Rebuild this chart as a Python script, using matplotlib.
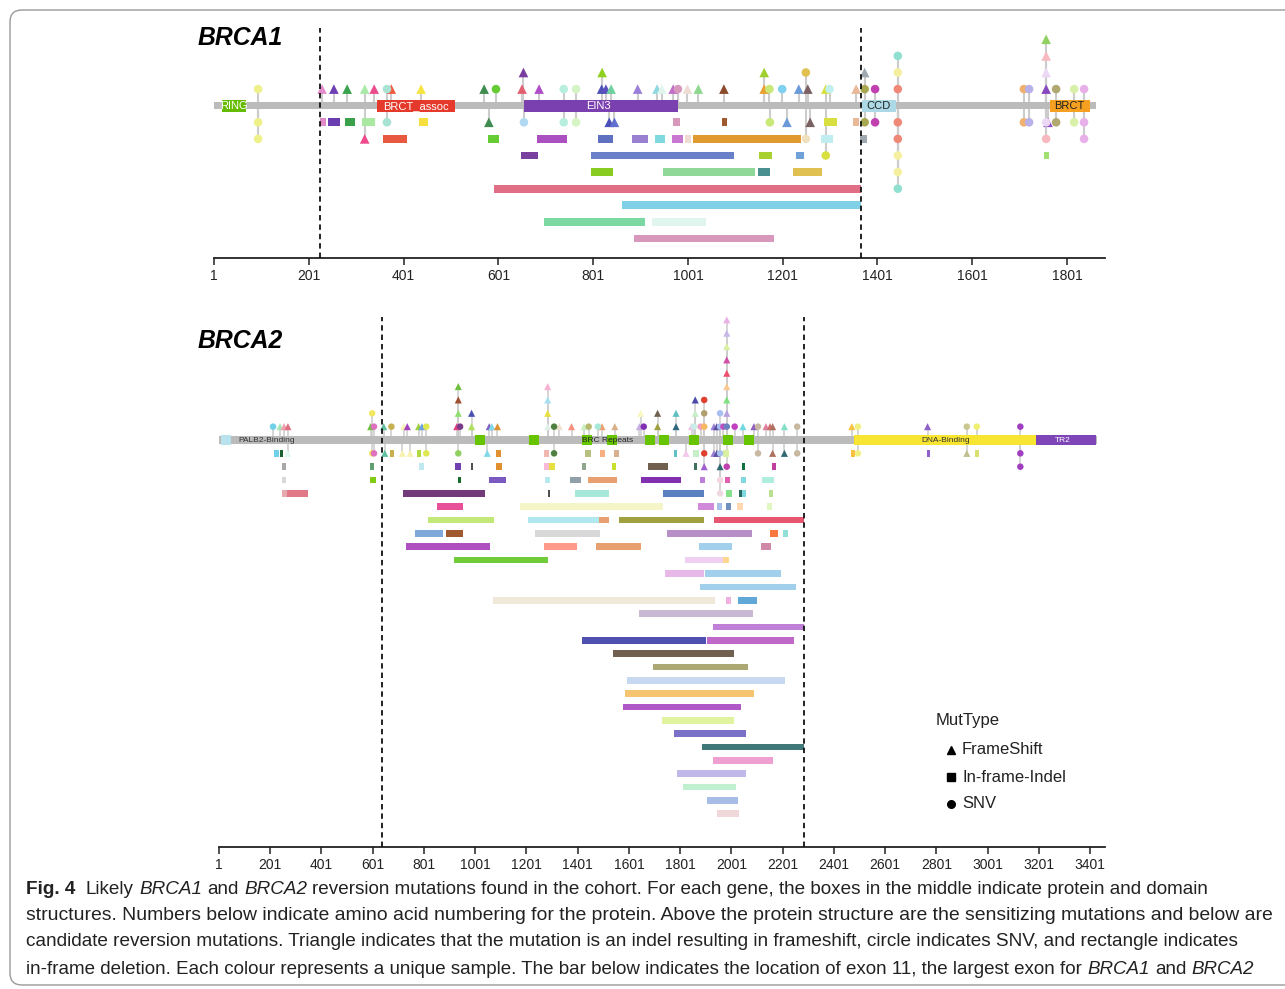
import matplotlib.pyplot as plt
from matplotlib.lines import Line2D
from matplotlib.patches import FancyBboxPatch

plt.rcParams['font.family'] = ['Liberation Sans', 'DejaVu Sans']

W, H = 1285, 989

# ---------------- BRCA1 ----------------
b1_len = 1863
b1_exon11 = [225, 1366]
b1_ticks = [1, 201, 401, 601, 801, 1001, 1201, 1401, 1601, 1801]

b1_dom_start = [18, 345, 655, 1368, 1765]
b1_dom_end = [68, 510, 980, 1440, 1850]
b1_dom_col = ['#66bb00', '#e4392b', '#7b40b0', '#add8e6', '#f5a020']
b1_lab_text = ['RING', 'BRCT_assoc', 'EIN3', 'CCD', 'BRCT']
b1_lab_pos = [43, 427, 813, 1404, 1805]
b1_lab_col = ['white', 'white', 'white', '#222222', '#222222']

# frameshift (triangles)
b1_fs_pos = [229, 254, 282, 319, 319, 339, 375, 438, 571, 581,
             651, 654, 687, 819, 820, 828, 839, 835, 846, 895,
             936, 946, 970, 1000, 1023, 1077, 1162, 1162, 1235, 1210,
             1254, 1259, 1292, 1356, 1374, 1757, 1757, 1757, 1757, 1761]
b1_fs_row = [1, 1, 1, 1, -2, 1, 1, 1, 1, -1,
             1, 2, 1, 1, 2, 1, 1, -1, -1, 1,
             1, 1, 1, 1, 1, 1, 1, 2, 1, -1,
             1, -1, 1, 1, 2, 4, 3, 2, 1, -1]
b1_fs_col = ['#e48ccc', '#6e40b4', '#3aa34e', '#aaeaa8', '#ee4a8c', '#ec4c8c', '#f25a40', '#f5e442', '#3e8c50', '#3e8c50',
             '#e06070', '#7a3da0', '#b050c8', '#5050b8', '#90d020', '#5a50c0', '#70d0a0', '#4a50b8', '#6070d0', '#9a80d8',
             '#90d8e0', '#dff5ee', '#c070c8', '#eedcd4', '#90d890', '#8b4a2a', '#e8a030', '#a0d030', '#6a9ad8', '#6a9ad8',
             '#7a6060', '#7a6060', '#d8e040', '#e8b898', '#a0a8b0', '#90d060', '#f8b8c0', '#ecd8f4', '#8848c0', '#9050c8']

# SNV (circles)
b1_snv_pos = [94, 94, 94, 366, 366, 596, 655, 739, 739, 765,
              765, 980, 1173, 1174, 1200, 1250, 1250, 1300, 1292, 1374,
              1374, 1396, 1396, 1444, 1444, 1444, 1444, 1444, 1444, 1444,
              1444, 1710, 1710, 1721, 1721, 1757, 1757, 1778, 1778, 1816,
              1816, 1837, 1837, 1837]
b1_snv_row = [1, -1, -2, 1, -1, 1, -1, 1, -1, 1,
              -1, 1, 1, -1, 1, 2, -2, 1, -3, 1,
              -1, 1, -1, 3, 2, 1, -1, -2, -3, -4,
              -5, 1, -1, 1, -1, -1, -2, 1, -1, 1,
              -1, 1, -1, -2]
b1_snv_col = ['#eef08a', '#eef08a', '#eef08a', '#a8e2d2', '#a8e2d2', '#66cc33', '#b0d8f0', '#b8eedd', '#b8eedd', '#d4f4c4',
              '#d4f4c4', '#d898bb', '#c8e878', '#c8e878', '#80d0f0', '#e0c050', '#f0e0c0', '#c0f0f0', '#d8e040', '#a8a850',
              '#a8a850', '#c040b0', '#c040b0', '#90e0d0', '#f5f0a0', '#f08878', '#f08878', '#f08878', '#f5f0a0', '#f5f0a0',
              '#90e0d0', '#f0b070', '#f0b070', '#b8b0e8', '#b8b0e8', '#ecd8f4', '#f8b8c0', '#b0a870', '#b0a870', '#d8f0a8',
              '#d8f0a8', '#e8b0e8', '#e8b0e8', '#e8b0e8']

# in-frame indels (rectangles)
b1_del_start = [225, 241, 277, 313, 433, 969, 1073, 1288, 1349,
                357, 579, 683, 811, 883, 932, 967, 995, 1012, 1282, 1364,
                649, 797, 1151, 1229, 1752,
                797, 949, 1149, 1222,
                592, 862, 697, 925, 887]
b1_del_end = [237, 267, 299, 341, 453, 984, 1084, 1316, 1362,
              408, 602, 746, 843, 917, 953, 990, 1008, 1240, 1307, 1379,
              685, 1098, 1178, 1246, 1763,
              843, 1143, 1174, 1284,
              1366, 1366, 910, 1039, 1182]
b1_del_row = [-1, -1, -1, -1, -1, -1, -1, -1, -1,
              -2, -2, -2, -2, -2, -2, -2, -2, -2, -2, -2,
              -3, -3, -3, -3, -3,
              -4, -4, -4, -4,
              -5, -6, -7, -7, -8]
b1_del_col = ['#e08ac8', '#6a3db0', '#3aa04a', '#a8e8a0', '#f5e040', '#d898bb', '#a05a30', '#d8e040', '#e8b898',
              '#e85a40', '#66cc33', '#aa50c0', '#6070c0', '#9a80d0', '#80d8e0', '#c878d0', '#eedcd4', '#e09a30', '#c0eef0', '#a0a8b0',
              '#7a40a0', '#6a80c8', '#a8d030', '#70a0d8', '#a0e070',
              '#88cc22', '#90d898', '#4a9090', '#e0c050',
              '#e06e85', '#80d0e8', '#7ad8a0', '#dff5ee', '#d898bb']

# ---------------- BRCA2 ----------------
b2_len = 3428
b2_exon11 = [637, 2284]
b2_ticks = [1, 201, 401, 601, 801, 1001, 1201, 1401, 1601, 1801, 2001, 2201, 2401, 2601, 2801, 3001, 3201, 3401]

b2_dom_start = [9, 1001, 1211, 1418, 1516, 1664, 1719, 1836, 1969, 2051, 2480, 3191]
b2_dom_end = [48, 1040, 1250, 1457, 1555, 1703, 1758, 1875, 2008, 2090, 3191, 3424]
b2_dom_col = ['#b8e2ee', '#66c400', '#66c400', '#66c400', '#66c400', '#66c400', '#66c400',
              '#66c400', '#66c400', '#66c400', '#f7e531', '#7d45b5']
b2_lab_text = ['PALB2-Binding', 'BRC Repeats', 'DNA-Binding', 'TR2']
b2_lab_pos = [75, 1519, 2839, 3296]
b2_lab_col = ['#333333', '#222222', '#333333', 'white']

b2_fs_pos = [239, 255, 270, 269, 593, 644, 648, 723, 736, 717,
             747, 780, 793, 929, 935, 935, 935, 987, 987, 1056,
             1066, 1088, 1048, 1284, 1284, 1284, 1284, 1329, 1377, 1426,
             1496, 1546, 1642, 1647, 1713, 1713, 1785, 1785, 1824, 1846,
             1860, 1860, 1895, 1933, 1933, 1944, 1944, 1957, 1983, 1983,
             1983, 1983, 1983, 1983, 1983, 1983, 2046, 2089, 2136, 2152,
             2162, 2162, 2208, 2208, 2471, 2767, 2920]
b2_fs_row = [1, 1, 1, -1, 1, 1, -1, 1, 1, -1,
             -1, 1, 1, 1, 2, 3, 4, 2, 1, 1,
             1, 1, -1, 1, 2, 3, 4, 1, 1, 1,
             1, 1, 1, 2, 1, 2, 1, 2, -1, 1,
             2, 3, -2, 1, -1, 1, -1, -2, 2, 3,
             4, 5, 6, 7, 8, 9, 1, 1, 1, 1,
             1, -1, 1, -1, 1, 1, -1]
b2_fs_col = ['#a8e8b8', '#f0a0b0', '#e07080', '#e0f8f0', '#70c040', '#60c0a0', '#60c0a0', '#f8f0b0', '#a040c0', '#f8f0b0',
             '#f8f0b0', '#a0d040', '#70a0e0', '#e04080', '#90e070', '#a05030', '#70c040', '#4a50b0', '#b0e060', '#8060c0',
             '#80d8e8', '#e09030', '#80d8e8', '#e0f0e8', '#e8e040', '#a8e0f0', '#f8b0d0', '#f0e0d0', '#f89080', '#c8f0c0',
             '#f0a070', '#d8b088', '#c8b0e0', '#f8f8c0', '#a0a040', '#706050', '#306880', '#60c0c0', '#f4c8ec', '#f0c0e8',
             '#c8f0c8', '#4a4aa8', '#a060d0', '#9a80d8', '#9a80d8', '#5a50a0', '#5a50a0', '#306870', '#b8a0e0', '#80e080',
             '#f8c890', '#f05070', '#d050a8', '#d8f0a0', '#c8b8e8', '#ecb0e8', '#70d8e0', '#9060c0', '#e080a0', '#d07070',
             '#b07060', '#b07060', '#80e0c8', '#306870', '#f8c040', '#9060c8', '#c0c090']

b2_snv_pos = [212, 599, 599, 606, 606, 674, 810, 810, 942, 935,
              1309, 1309, 1444, 1480, 1659, 1855, 1881, 1895, 1895, 1895,
              1895, 1957, 1957, 1957, 1957, 1957, 1970, 1983, 1983, 2014,
              2105, 2105, 2258, 2258, 2495, 2495, 2920, 2959, 3129, 3129,
              3129]
b2_snv_row = [1, 2, -1, 1, -1, 1, 1, -1, 1, -1,
              1, -1, 1, 1, 1, 1, 1, 1, 2, 3,
              -1, 1, 2, -1, -3, -4, 1, 1, -2, 1,
              1, -1, 1, -1, 1, -1, 1, 1, 1, -1,
              -2]
b2_snv_col = ['#70d0e8', '#f0e860', '#f0e860', '#e070c0', '#e070c0', '#c8b050', '#e0e850', '#e0e850', '#7a3a8a', '#90d060',
              '#508040', '#508040', '#b8b870', '#a8e8d8', '#8030b0', '#c8eee8', '#f0a0c0', '#f8b860', '#b0a070', '#e04030',
              '#e04030', '#a8c0f0', '#a8c0f0', '#a8c0f0', '#f0d8e0', '#f0d8e0', '#c050c0', '#6a80c0', '#c040b0', '#c040c0',
              '#c8b8a0', '#c8b8a0', '#c8b8a0', '#c8b8a0', '#f0f080', '#f0f080', '#c8c890', '#f0f070', '#a040c0', '#a040c0',
              '#a040c0']

b2_del_start = [216, 239, 668, 775, 1082, 1270, 1430, 1488, 1543, 1777, 1850, 1968, 2468, 2763, 2952,
                247, 590, 782, 922, 985, 1082, 1270, 1289, 1418, 1535, 1675, 1855, 2042, 2159,
                247, 590, 934, 1055, 1274, 1371, 1441, 1648, 1878, 1976, 2038, 2120,
                247, 266, 719, 1285, 1391, 1734, 1980, 2031, 2042, 2148,
                852, 1176, 1871, 1945, 1980, 2023, 2140,
                817, 1207, 1484, 1562, 1933,
                766, 887, 1234, 1750, 2151, 2202,
                731, 1270, 1472, 1875, 2117,
                918, 1820, 1968,
                1742, 1898,
                1878,
                1070, 1980, 2027,
                1640, 1929, 1418, 1906, 1539, 1695, 1593, 1586, 1578, 1730, 1777, 1886, 1929, 1789, 1812, 1906, 1945]
b2_del_end = [234, 250, 683, 790, 1100, 1289, 1452, 1508, 1562, 1787, 1873, 1991, 2483, 2778, 2967,
              263, 606, 801, 946, 993, 1106, 1289, 1313, 1434, 1551, 1753, 1867, 2054, 2175,
              263, 614, 946, 1121, 1293, 1414, 1555, 1804, 1898, 1995, 2058, 2167,
              266, 348, 1039, 1293, 1524, 1894, 2003, 2042, 2058, 2164,
              953, 1734, 1933, 1964, 1999, 2046, 2160,
              1074, 1484, 1523, 1894, 2284,
              875, 953, 1488, 2081, 2183, 2222,
              1059, 1398, 1648, 2004, 2156,
              1285, 1968, 1992,
              1894, 2195,
              2254,
              1937, 1999, 2101,
              2085, 2284, 1902, 2246, 2011, 2066, 2210, 2089, 2039, 2011, 2058, 2284, 2163, 2058, 2019, 2027, 2031]
b2_del_row = [-1, -1, -1, -1, -1, -1, -1, -1, -1, -1, -1, -1, -1, -1, -1,
              -2, -2, -2, -2, -2, -2, -2, -2, -2, -2, -2, -2, -2, -2,
              -3, -3, -3, -3, -3, -3, -3, -3, -3, -3, -3, -3,
              -4, -4, -4, -4, -4, -4, -4, -4, -4, -4,
              -5, -5, -5, -5, -5, -5, -5,
              -6, -6, -6, -6, -6,
              -7, -7, -7, -7, -7, -7,
              -8, -8, -8, -8, -8,
              -9, -9, -9,
              -10, -10,
              -11,
              -12, -12, -12,
              -13, -14, -15, -15, -16, -17, -18, -19, -20, -21, -22, -23, -24, -25, -26, -27, -28]
b2_del_col = ['#70d0e8', '#1a6030', '#c8b050', '#b0d840', '#e09030', '#f0b8b0', '#b8c080', '#f8b080', '#d8b090', '#60c0c8',
              '#c8f0c8', '#d8f0a0', '#f8c040', '#9060c8', '#d8e070',
              '#a8a8a8', '#60a070', '#c0e8f0', '#7040b0', '#505050', '#e09030', '#f8b8d8', '#e8e040', '#90a890', '#c8e030',
              '#706050', '#407060', '#107040', '#c040a0',
              '#d8d8d8', '#80cc10', '#1a6a30', '#7a5ac0', '#b8e8f0', '#90a0a8', '#e8a070', '#8030b0', '#c080d8', '#e060b0',
              '#80d8e0', '#b0eedd',
              '#e8a8b0', '#e07888', '#733a7a', '#505050', '#a8e8d8', '#5a80c0', '#88e088', '#2a6a60', '#80d8e0', '#b8e090',
              '#e8509a', '#f5f5c8', '#d088d8', '#a8c0e8', '#7090c0', '#ffd8b0', '#e0f8c0',
              '#c4e878', '#b0e8f0', '#e8a070', '#a0a040', '#e85570',
              '#80a8d8', '#a05a30', '#d8d8d8', '#b890c8', '#f87840', '#90e0d8',
              '#b050c0', '#ff9988', '#e8a070', '#a0d0ec', '#d088a8',
              '#70cc38', '#f0d0f0', '#ffd890',
              '#e8b8e8', '#a0d0ec',
              '#a0d0ec',
              '#f0e8d8', '#f0b0e0', '#60a8d8',
              '#c8b8d4', '#c080d8', '#5050b0', '#c068c8', '#706050', '#aca874', '#c8d8f0', '#f5c470', '#b058c8', '#e0f4a0',
              '#7a70c8', '#407878', '#f0a0d0', '#c0b8e8', '#c0f0d0', '#a8bce8', '#f0d8d8']

leg_labels = ['FrameShift', 'In-frame-Indel', 'SNV']
leg_markers = ['^', 's', 'o']

caption = [
    [('Fig. 4', 'bold', 'normal', 2), ('Likely', 'normal', 'normal', 1), ('BRCA1', 'normal', 'italic', 1),
     ('and', 'normal', 'normal', 1), ('BRCA2', 'normal', 'italic', 1),
     ('reversion mutations found in the cohort. For each gene, the boxes in the middle indicate protein and domain',
      'normal', 'normal', 0)],
    [('structures. Numbers below indicate amino acid numbering for the protein. Above the protein structure are the '
      'sensitizing mutations and below are', 'normal', 'normal', 0)],
    [('candidate reversion mutations. Triangle indicates that the mutation is an indel resulting in frameshift, '
      'circle indicates SNV, and rectangle indicates', 'normal', 'normal', 0)],
    [('in-frame deletion. Each colour represents a unique sample. The bar below indicates the location of exon 11, '
      'the largest exon for', 'normal', 'normal', 1), ('BRCA1', 'normal', 'italic', 1),
     ('and', 'normal', 'normal', 1), ('BRCA2', 'normal', 'italic', 0)],
]
caption_right = [1220, 1275, 1254, 1257]

fig = plt.figure(figsize=(W / 100, H / 100), dpi=100)
renderer = fig.canvas.get_renderer()


def add_px_axes(left, right, top, bottom):
    ax = fig.add_axes([left / W, 1 - bottom / H, (right - left) / W, (bottom - top) / H])
    ax.patch.set_alpha(0)
    return ax


def draw_gene(ax, length, dom_start, dom_end, dom_col, lab_text, lab_pos, lab_col, lab_size,
              fs_pos, fs_row, fs_col, snv_pos, snv_row, snv_col,
              del_start, del_end, del_row, del_col, exon, ticks,
              bar_h, dom_h, del_h, s_tri, s_dot, stem_w):
    ax.vlines(fs_pos + snv_pos, 0, fs_row + snv_row, color='#cccccc', lw=stem_w, zorder=1)
    ax.barh(0, length - 1, left=1, height=bar_h, color='#bbbbbb', zorder=2)
    ax.barh([0] * len(dom_start), [e - s for s, e in zip(dom_start, dom_end)], left=dom_start,
            height=dom_h, color=dom_col, zorder=3)
    for t, x, c in zip(lab_text, lab_pos, lab_col):
        ha = 'left' if t == 'PALB2-Binding' else 'center'
        ax.text(x, 0, t, color=c, ha=ha, va='center', fontsize=lab_size, zorder=6)
    ax.barh(del_row, [e - s for s, e in zip(del_start, del_end)], left=del_start,
            height=del_h, color=del_col, zorder=3)
    ax.scatter(fs_pos, fs_row, marker='^', s=s_tri, c=fs_col, linewidths=0, zorder=4, clip_on=False)
    ax.scatter(snv_pos, snv_row, marker='o', s=s_dot, c=snv_col, linewidths=0, zorder=4, clip_on=False)
    for x in exon:
        ax.axvline(x, color='#111111', lw=1.3, ls=(0, (3, 2.2)), zorder=5)
    ax.set_xticks(ticks)
    ax.set_yticks([])
    for s in ['top', 'left', 'right']:
        ax.spines[s].set_visible(False)
    ax.spines['bottom'].set_linewidth(1.3)
    ax.spines['bottom'].set_color('#222222')
    ax.tick_params(axis='x', length=5, width=1.1, pad=3, labelsize=10, colors='#222222')


# BRCA1 panel
ax1 = add_px_axes(214, 1105, 28, 258)
ax1.set_xlim(1, 1 + (1105 - 214) / 0.47389)
ax1.set_ylim(-(258 - 105.7) / 16.6, (105.7 - 28) / 16.6)
draw_gene(ax1, b1_len, b1_dom_start, b1_dom_end, b1_dom_col, b1_lab_text, b1_lab_pos, b1_lab_col, 8,
          b1_fs_pos, b1_fs_row, b1_fs_col, b1_snv_pos, b1_snv_row, b1_snv_col,
          b1_del_start, b1_del_end, b1_del_row, b1_del_col, b1_exon11, b1_ticks,
          0.42, 0.72, 0.48, 48, 38, 1.5)

# BRCA2 panel
ax2 = add_px_axes(219, 1105, 317, 847)
ax2.set_xlim(1, 1 + (1105 - 219) / 0.25618)
ax2.set_ylim(-(847 - 440) / 13.35, (440 - 317) / 13.35)
draw_gene(ax2, b2_len, b2_dom_start, b2_dom_end, b2_dom_col, b2_lab_text, b2_lab_pos, b2_lab_col, 6,
          b2_fs_pos, b2_fs_row, b2_fs_col, b2_snv_pos, b2_snv_row, b2_snv_col,
          b2_del_start, b2_del_end, b2_del_row, b2_del_col, b2_exon11, b2_ticks,
          0.55, 0.68, 0.5, 26, 22, 1.1)

# gene titles
fig.text(198 / W, 1 - 38 / H, 'BRCA1', fontsize=17.8, fontweight='bold', fontstyle='italic', va='center')
fig.text(198 / W, 1 - 341 / H, 'BRCA2', fontsize=17.8, fontweight='bold', fontstyle='italic', va='center')

# legend
fig.text(936 / W, 1 - 721 / H, 'MutType', fontsize=12, va='center', color='#222222')
for lab, mk, y in zip(leg_labels, leg_markers, [750, 777, 804]):
    fig.add_artist(Line2D([951 / W], [1 - y / H], marker=mk, color='black', ms=5.5, ls='none',
                          transform=fig.transFigure))
    fig.text(962 / W, 1 - y / H, lab, fontsize=12, va='center', color='#222222')


# caption: each line is fitted to the width it has in the reference
def text_width(s, size, weight, style):
    t = fig.text(0, 0, s, fontsize=size, fontweight=weight, fontstyle=style)
    w = t.get_window_extent(renderer).width
    t.remove()
    return w


def line_width(line, size):
    total = 0
    for txt, weight, style, gap in line:
        sp = text_width('a a', size, weight, style) - text_width('aa', size, weight, style)
        total += text_width(txt, size, weight, style) + gap * sp
    return total


base = 10
for line, y, right in zip(caption, [889, 916, 942, 969], caption_right):
    size = base * (right - 26) / line_width(line, base)
    x = 26
    for txt, weight, style, gap in line:
        fig.text(x / W, 1 - y / H, txt, fontsize=size, fontweight=weight, fontstyle=style,
                 va='center', ha='left', color='#222222')
        sp = text_width('a a', size, weight, style) - text_width('aa', size, weight, style)
        x += text_width(txt, size, weight, style) + gap * sp

# rounded frame
fig.add_artist(FancyBboxPatch((0.10, 0.04), 13.3, 9.75, boxstyle='round,pad=0,rounding_size=0.12',
                              transform=fig.dpi_scale_trans, fill=False, ec='#999999', lw=1))

fig.savefig('out.png', dpi=100)
